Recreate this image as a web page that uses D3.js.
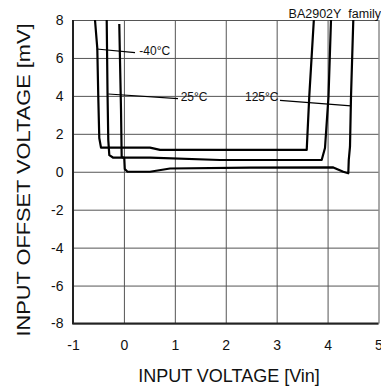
<!DOCTYPE html>
<html>
<head>
<meta charset="utf-8">
<script src="https://cdn.jsdelivr.net/npm/d3@7"></script>
<style>
  body { margin: 0; background: #fff; }
  svg { display: block; font-family: "Liberation Sans", Arial, sans-serif; }
</style>
</head>
<body>
<svg></svg>
<script>
// input voltage [V] / offset voltage [mV]
const xTicks = [-1, 0, 1, 2, 3, 4, 5]
const yTicks = [-8, -6, -4, -2, 0, 2, 4, 6, 8]

const curveM40 = [
  [-0.568, 8.0], [-0.523, 6.52], [-0.503, 3.89], [-0.484, 1.78], [-0.45, 1.27],
  [0.512, 1.27], [0.709, 1.15], [3.59, 1.15], [3.64, 3.96], [3.73, 8.0]
]
const curve25 = [
  [-0.338, 8.0], [-0.322, 4.15], [-0.307, 1.67], [-0.287, 0.88], [-0.209, 0.74],
  [0.512, 0.74], [1.887, 0.62], [3.884, 0.62], [3.949, 1.25], [4.018, 3.96], [4.067, 8.0]
]
const curve125 = [
  [-0.091, 7.79], [-0.077, 5.89], [-0.057, 3.26], [-0.044, 0.78], [0.007, 0.72],
  [0.017, 0.145], [0.07, 0.0], [0.512, 0.0], [0.905, 0.17], [2.476, 0.22],
  [4.112, 0.23], [4.308, 0.0], [4.407, -0.08], [4.416, 0.62], [4.44, 1.32],
  [4.46, 3.96], [4.505, 8.0]
]

// label text, leader line start/end and text anchor, in data units
const tempLabels = [
  { text: '-40°C', from: [-0.535, 6.47], to: [0.218, 6.28], at: [0.302, 6.15] },
  { text: '25°C', from: [-0.307, 4.10], to: [1.062, 3.86], at: [1.115, 3.73] },
  { text: '125°C', from: [4.46, 3.47], to: [3.065, 3.76], at: [2.378, 3.73] }
]

let svgWidth = 381
let svgHeight = 389
let padLeft = 73, padRight = 378.5, padTop = 20, padBottom = 323.5

const svg = d3.select('svg')
  .attr('width', svgWidth)
  .attr('height', svgHeight)

const xScale = d3.scaleLinear().domain([-1, 5]).range([padLeft, padRight])
const yScale = d3.scaleLinear().domain([-8, 8]).range([padBottom, padTop])

// grid
svg.append('g')
  .attr('transform', 'translate(0,' + padBottom + ')')
  .call(d3.axisBottom(xScale).tickValues(xTicks).tickSize(-(padBottom - padTop)).tickFormat(''))
  .call(g => g.select('.domain').remove())
  .selectAll('line').attr('stroke', '#555').attr('stroke-width', 1)

svg.append('g')
  .attr('transform', 'translate(' + padLeft + ',0)')
  .call(d3.axisLeft(yScale).tickValues(yTicks).tickSize(-(padRight - padLeft)).tickFormat(''))
  .call(g => g.select('.domain').remove())
  .selectAll('line').attr('stroke', '#555').attr('stroke-width', 1)

// frame: heavy left/bottom
svg.append('path')
  .attr('d', 'M' + padLeft + ',' + padTop + 'V' + padBottom + 'H' + padRight)
  .attr('fill', 'none')
  .attr('stroke', '#222')
  .attr('stroke-width', 2)

// tick labels
svg.append('g')
  .attr('transform', 'translate(0,' + padBottom + ')')
  .call(d3.axisBottom(xScale).tickValues(xTicks).tickSize(0).tickPadding(16.5).tickFormat(d => String(d)))
  .call(g => g.select('.domain').remove())
  .selectAll('text')
  .attr('font-size', 14)
  .attr('font-family', '"Liberation Sans", Arial, sans-serif')
  .attr('fill', '#111')

svg.append('g')
  .attr('transform', 'translate(' + padLeft + ',0)')
  .call(d3.axisLeft(yScale).tickValues(yTicks).tickSize(0).tickPadding(9.5).tickFormat(d => String(d)))
  .call(g => g.select('.domain').remove())
  .selectAll('text')
  .attr('font-size', 14)
  .attr('font-family', '"Liberation Sans", Arial, sans-serif')
  .attr('fill', '#111')

// curves
const line = d3.line().x(d => xScale(d[0])).y(d => yScale(d[1]))

svg.selectAll('.curve')
  .data([curveM40, curve25, curve125])
  .enter()
  .append('path')
  .attr('class', 'curve')
  .attr('d', line)
  .attr('fill', 'none')
  .attr('stroke', '#000')
  .attr('stroke-width', 2.2)
  .attr('stroke-linejoin', 'round')

// leaders + labels
svg.selectAll('.leader')
  .data(tempLabels)
  .enter()
  .append('line')
  .attr('class', 'leader')
  .attr('x1', d => xScale(d.from[0]))
  .attr('y1', d => yScale(d.from[1]))
  .attr('x2', d => xScale(d.to[0]))
  .attr('y2', d => yScale(d.to[1]))
  .attr('stroke', '#000')
  .attr('stroke-width', 1.2)

svg.selectAll('.templabel')
  .data(tempLabels)
  .enter()
  .append('text')
  .attr('class', 'templabel')
  .attr('x', d => xScale(d.at[0]))
  .attr('y', d => yScale(d.at[1]))
  .attr('font-size', 12)
  .attr('fill', '#111')
  .text(d => d.text)

svg.append('text')
  .attr('x', 381)
  .attr('y', 18.3)
  .attr('text-anchor', 'end')
  .attr('font-size', 12.5)
  .attr('fill', '#111')
  .text('BA2902Y\u00a0\u00a0family')

// axis titles
svg.append('text')
  .attr('x', 229)
  .attr('y', 381.5)
  .attr('text-anchor', 'middle')
  .attr('font-size', 18)
  .attr('fill', '#111')
  .text('INPUT VOLTAGE [Vin]')

svg.append('text')
  .attr('transform', 'translate(29.5,180) rotate(-90)')
  .attr('text-anchor', 'middle')
  .attr('font-size', 18)
  .attr('textLength', 313)
  .attr('lengthAdjust', 'spacingAndGlyphs')
  .attr('fill', '#111')
  .text('INPUT OFFSET VOLTAGE [mV]')
</script>
</body>
</html>
